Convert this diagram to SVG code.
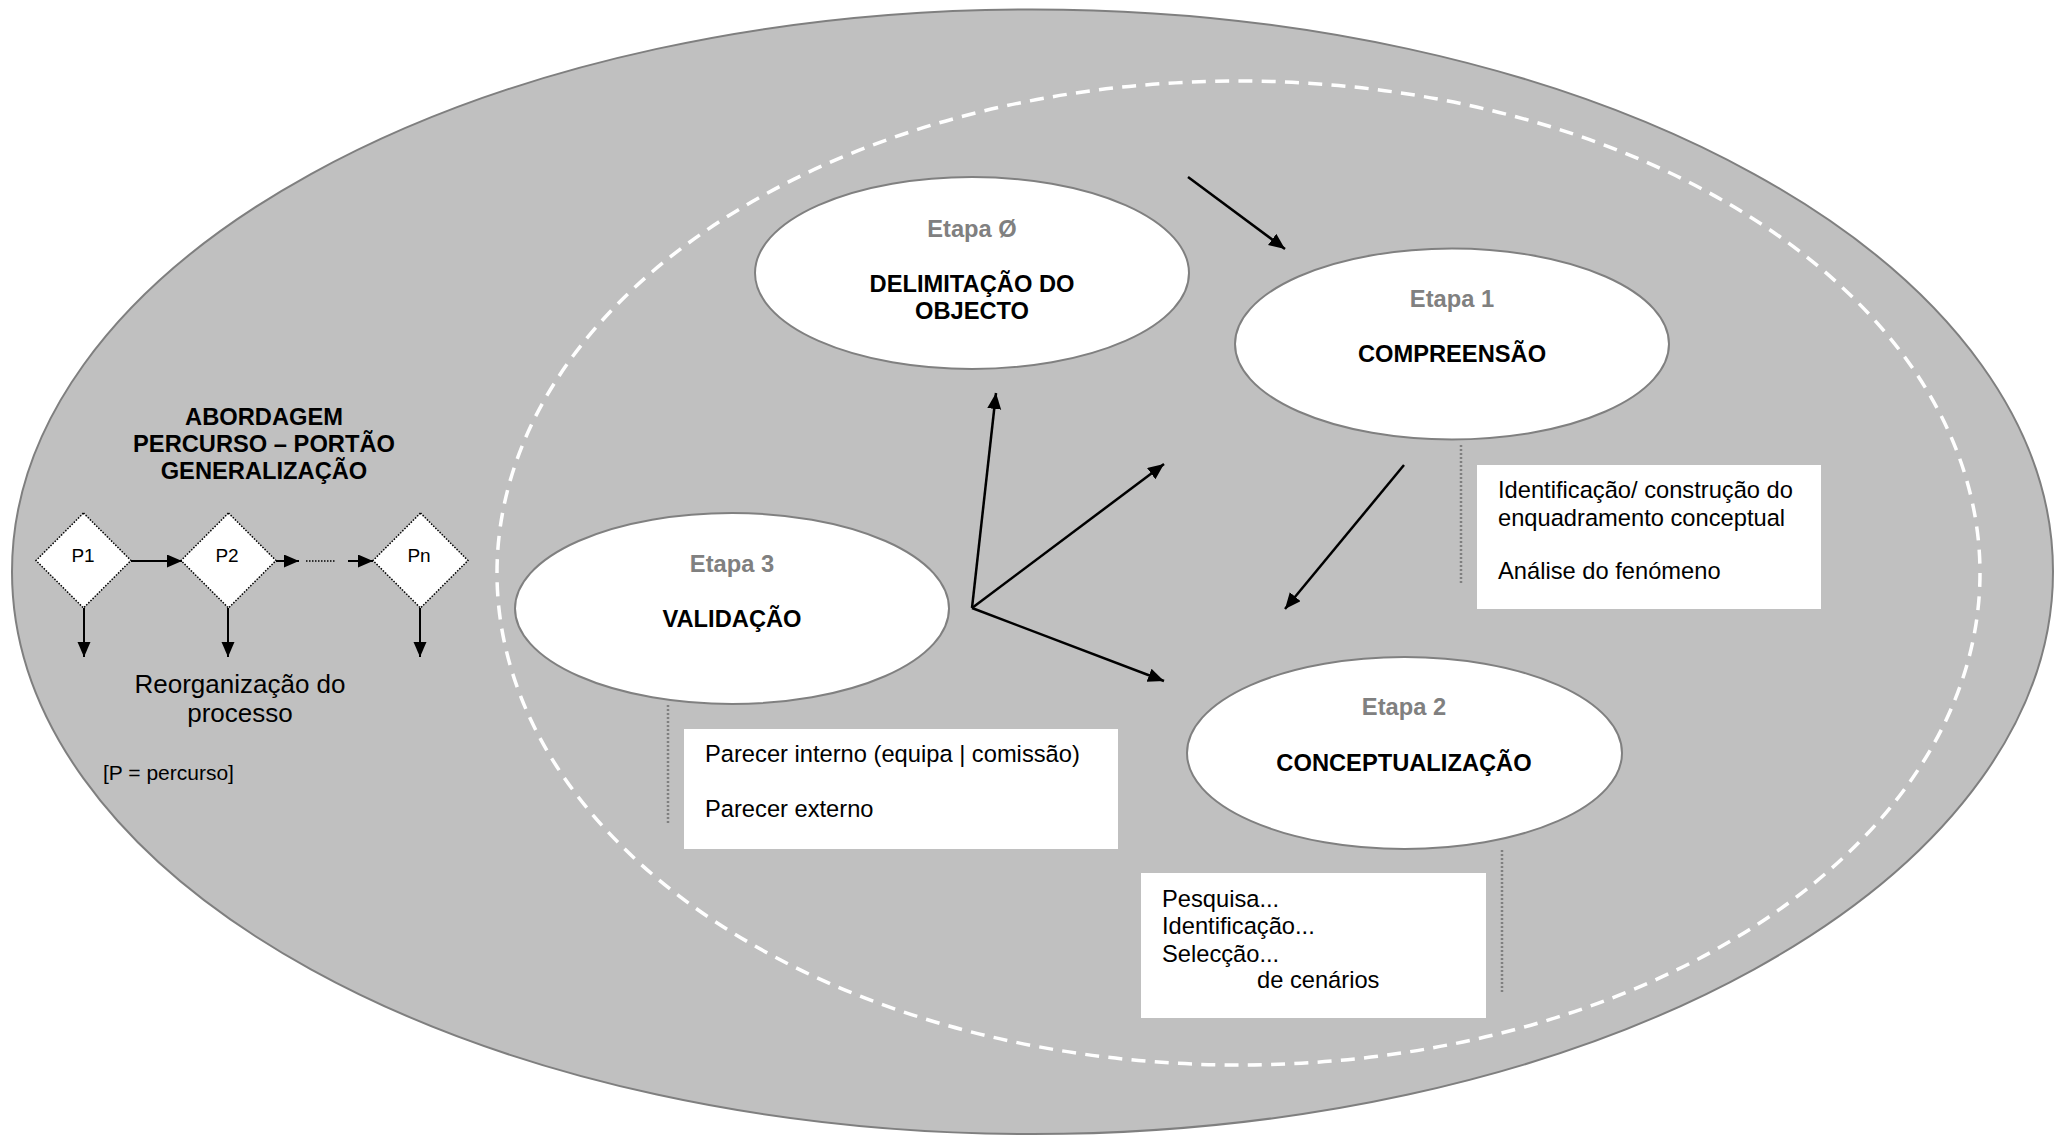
<svg xmlns="http://www.w3.org/2000/svg" width="2060" height="1136" viewBox="0 0 2060 1136">
<style>
text{font-family:"Liberation Sans",Arial,sans-serif;fill:#000}
.b{font-weight:bold;font-size:23.7px;text-anchor:middle}
.et{font-weight:bold;font-size:23.7px;text-anchor:middle;fill:#808080}
.r{font-size:23.7px}
.stage{fill:#fff;stroke:#808080;stroke-width:2}
.box{fill:#fff}
.dot{stroke:#808080;stroke-width:2.5;stroke-dasharray:2 2;fill:none}
.con{stroke:#000;stroke-width:2.5;fill:none;marker-end:url(#ah)}
.cs{stroke:#000;stroke-width:2;fill:none;marker-end:url(#ahs)}
.dia{fill:#fff;stroke:#000;stroke-width:1.5;stroke-dasharray:1.5 1.5}
.pl{font-size:19px;text-anchor:middle}
</style>
<defs>
<marker id="ah" markerUnits="userSpaceOnUse" markerWidth="17" markerHeight="15" refX="16" refY="7" orient="auto"><path d="M0,0 L16,7 L0,14 z" fill="#000"/></marker>
<marker id="ahs" markerUnits="userSpaceOnUse" markerWidth="16" markerHeight="14" refX="15" refY="6.5" orient="auto"><path d="M0,0 L15,6.5 L0,13 z" fill="#000"/></marker>
</defs>
<g id="background">
<ellipse cx="1032.5" cy="571.7" rx="1020.5" ry="562.3" fill="#c0c0c0" stroke="#7f7f7f" stroke-width="2"/>
<ellipse cx="1238.5" cy="573" rx="741.5" ry="492" fill="none" stroke="#fff" stroke-width="3.5" stroke-dasharray="14 9.3"/>
</g>
<g id="approach">
<text class="b" x="264" y="425">ABORDAGEM</text>
<text class="b" x="264" y="452">PERCURSO – PORTÃO</text>
<text class="b" x="264" y="479">GENERALIZAÇÃO</text>
<text x="240" y="693" font-size="26" text-anchor="middle">Reorganização do</text>
<text x="240" y="722" font-size="26" text-anchor="middle">processo</text>
<text x="103" y="780" font-size="21">[P = percurso]</text>
</g>
<g id="p1"><polygon class="dia" points="83.5,513 131,560.5 83.5,608 36,560.5"/><text class="pl" x="83" y="562">P1</text></g>
<g id="p2"><polygon class="dia" points="228.5,513 276,560.5 228.5,608 181,560.5"/><text class="pl" x="227" y="562">P2</text></g>
<g id="pn"><polygon class="dia" points="420.5,513 468,560.5 420.5,608 373,560.5"/><text class="pl" x="419" y="562">Pn</text></g>
<g id="etapa0"><ellipse class="stage" cx="972" cy="273" rx="217" ry="96"/><text class="et" x="972" y="237">Etapa Ø</text><text class="b" x="972" y="292">DELIMITAÇÃO DO</text><text class="b" x="972" y="319">OBJECTO</text></g>
<g id="etapa1"><ellipse class="stage" cx="1452" cy="344" rx="217" ry="95.5"/><text class="et" x="1452" y="307">Etapa 1</text><text class="b" x="1452" y="362">COMPREENSÃO</text></g>
<g id="etapa3"><ellipse class="stage" cx="732" cy="608.5" rx="217" ry="95.5"/><text class="et" x="732" y="572">Etapa 3</text><text class="b" x="732" y="627">VALIDAÇÃO</text></g>
<g id="etapa2"><ellipse class="stage" cx="1404.5" cy="753" rx="217.5" ry="96"/><text class="et" x="1404" y="715">Etapa 2</text><text class="b" x="1404" y="771">CONCEPTUALIZAÇÃO</text></g>
<g id="note1"><rect class="box" x="1477" y="465" width="344" height="144"/><text class="r" x="1498" y="498">Identificação/ construção do</text><text class="r" x="1498" y="526">enquadramento conceptual</text><text class="r" x="1498" y="579">Análise do fenómeno</text></g>
<g id="note3"><rect class="box" x="684" y="729" width="434" height="120"/><text class="r" x="705" y="762">Parecer interno (equipa | comissão)</text><text class="r" x="705" y="817">Parecer externo</text></g>
<g id="note2"><rect class="box" x="1141" y="873" width="345" height="145"/><text class="r" x="1162" y="907">Pesquisa...</text><text class="r" x="1162" y="934">Identificação...</text><text class="r" x="1162" y="962">Selecção...</text><text class="r" x="1257" y="988">de cenários</text></g>
<g id="connectors">
<line class="dot" x1="1461" y1="445" x2="1461" y2="585"/>
<line class="dot" x1="668" y1="705" x2="668" y2="823"/>
<line class="dot" x1="1502" y1="850" x2="1502" y2="993"/>
<line class="con" x1="1188" y1="177" x2="1285" y2="249"/>
<line class="con" x1="1404" y1="465" x2="1285" y2="609"/>
<line class="con" x1="972" y1="608" x2="996" y2="393"/>
<line class="con" x1="972" y1="608" x2="1164" y2="464"/>
<line class="con" x1="972" y1="608" x2="1164" y2="681"/>
<line class="cs" x1="131" y1="561" x2="182" y2="561"/>
<line class="cs" x1="276" y1="561" x2="299" y2="561"/>
<line x1="306" y1="561" x2="336" y2="561" stroke="#000" stroke-width="1.5" stroke-dasharray="1.5 1.5"/>
<line class="cs" x1="348" y1="561" x2="373" y2="561"/>
<line class="cs" x1="84" y1="608" x2="84" y2="657"/>
<line class="cs" x1="228" y1="608" x2="228" y2="657"/>
<line class="cs" x1="420" y1="608" x2="420" y2="657"/>
</g>
</svg>
